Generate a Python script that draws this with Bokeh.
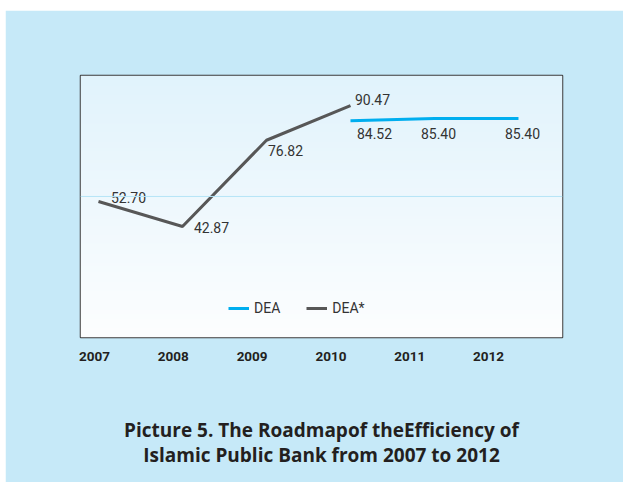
import numpy as np
from bokeh.plotting import figure
from bokeh.layouts import row, column
from bokeh.models import (Range1d, LinearAxis, FixedTicker, Span, Legend,
                          LegendItem, ColumnDataSource, Spacer)
from bokeh.core.properties import value
from bokeh.embed import file_html
from bokeh.resources import INLINE

# ---- data ----
years = [2007, 2008, 2009, 2010, 2011, 2012]
year_labels = ["2007", "2008", "2009", "2010", "2011", "2012"]
dea_star_years = [2007, 2008, 2009, 2010]
dea_star = [52.70, 42.87, 76.82, 90.47]
dea_years = [2010, 2011, 2012]
dea = [84.52, 85.40, 85.40]
title_lines = ["Picture 5. The Roadmapof theEfficiency of",
               "Islamic Public Bank from 2007 to 2012"]

# ---- styles ----
BG = "#c6e9f8"
BLUE = "#00aeef"
GRAY = "#575757"
TXT = "#333333"
FONT = "Roboto"
star_dx = [30, 29, 19, 22]
star_dy = [-4, 1, 10, -6]
dea_dx = [24, 4, 4]
dea_dy = [13, 15, 15]

X0, X1 = 2006.786, 2012.524
Y0, Y1 = -0.8, 102.3

p = figure(frame_width=482, frame_height=262,
           min_border_left=75, min_border_right=61,
           min_border_top=65, min_border_bottom=145,
           x_range=Range1d(X0, X1), y_range=Range1d(Y0, Y1),
           x_axis_location=None, y_axis_location=None,
           toolbar_location=None, output_backend="svg")
p.border_fill_color = BG
p.background_fill_color = "#ffffff"
p.outline_line_color = "#3a3a3a"
p.outline_line_width = 1.5
p.grid.visible = False

# gradient background inside frame
n = 262
t = np.linspace(0, 1, n)[:, None]
top = np.array([225, 243, 252]); bot = np.array([253, 254, 255])
img = np.zeros((n, 1), dtype=np.uint32)
v = img.view(dtype=np.uint8).reshape((n, 1, 4))
for k in range(3):
    v[:, :, k] = (bot[k] + (top[k] - bot[k]) * t).astype(np.uint8)
v[:, :, 3] = 255
p.image_rgba(image=[img], x=X0, y=Y0, dw=X1 - X0, dh=Y1 - Y0, level="image")

p.add_layout(Span(location=54.7, dimension="width", line_color="#b5e4f7",
                  line_width=1))

r_dea = p.line(dea_years, dea, line_color=BLUE, line_width=3)
r_star = p.line(dea_star_years, dea_star, line_color=GRAY, line_width=3)

src_star = ColumnDataSource(dict(x=dea_star_years, y=dea_star,
                                 t=["%.2f" % v_ for v_ in dea_star],
                                 dx=star_dx, dy=star_dy))
src_dea = ColumnDataSource(dict(x=dea_years, y=dea,
                                t=["%.2f" % v_ for v_ in dea],
                                dx=dea_dx, dy=dea_dy))
for s in (src_star, src_dea):
    p.text(x="x", y="y", text="t", x_offset="dx", y_offset="dy", source=s,
           text_align="center", text_baseline="middle",
           text_font=value(FONT), text_font_size="14px", text_color=TXT)

legend = Legend(items=[LegendItem(label="DEA", renderers=[r_dea]),
                       LegendItem(label="DEA*", renderers=[r_star])],
                orientation="horizontal", location=(148, 21),
                background_fill_alpha=0, border_line_alpha=0,
                padding=0, margin=0, spacing=26, label_standoff=5,
                glyph_width=21, glyph_height=16,
                label_text_font=FONT, label_text_font_size="14px",
                label_text_color=TXT)
p.add_layout(legend, "center")

p.extra_x_ranges = {"lab": Range1d(2006.822, 2012.939)}
ax = LinearAxis(x_range_name="lab", ticker=FixedTicker(ticks=years),
                major_label_overrides={y: l for y, l in zip(years, year_labels)})
ax.axis_line_color = None
ax.major_tick_line_color = None
ax.minor_tick_line_color = None
ax.major_tick_out = 0
ax.major_tick_in = 0
ax.major_label_standoff = 14
ax.major_label_text_font = FONT
ax.major_label_text_font_size = "13.5px"
ax.major_label_text_font_style = "bold"
ax.major_label_text_color = "#231f20"
ax.axis_label = "\n".join(title_lines)
ax.axis_label_standoff = 53
ax.axis_label_text_font = "Open Sans"
ax.axis_label_text_font_size = "19px"
ax.axis_label_text_font_style = "bold"
ax.axis_label_text_color = "#231f20"
ax.axis_label_text_line_height = 0.97
ax.axis_label_text_align = "center"
p.add_layout(ax, "below")

layout = row(Spacer(width=5, height=482),
             column(Spacer(width=618, height=10), p))

open("out.html", "w").write(file_html(layout, INLINE))
